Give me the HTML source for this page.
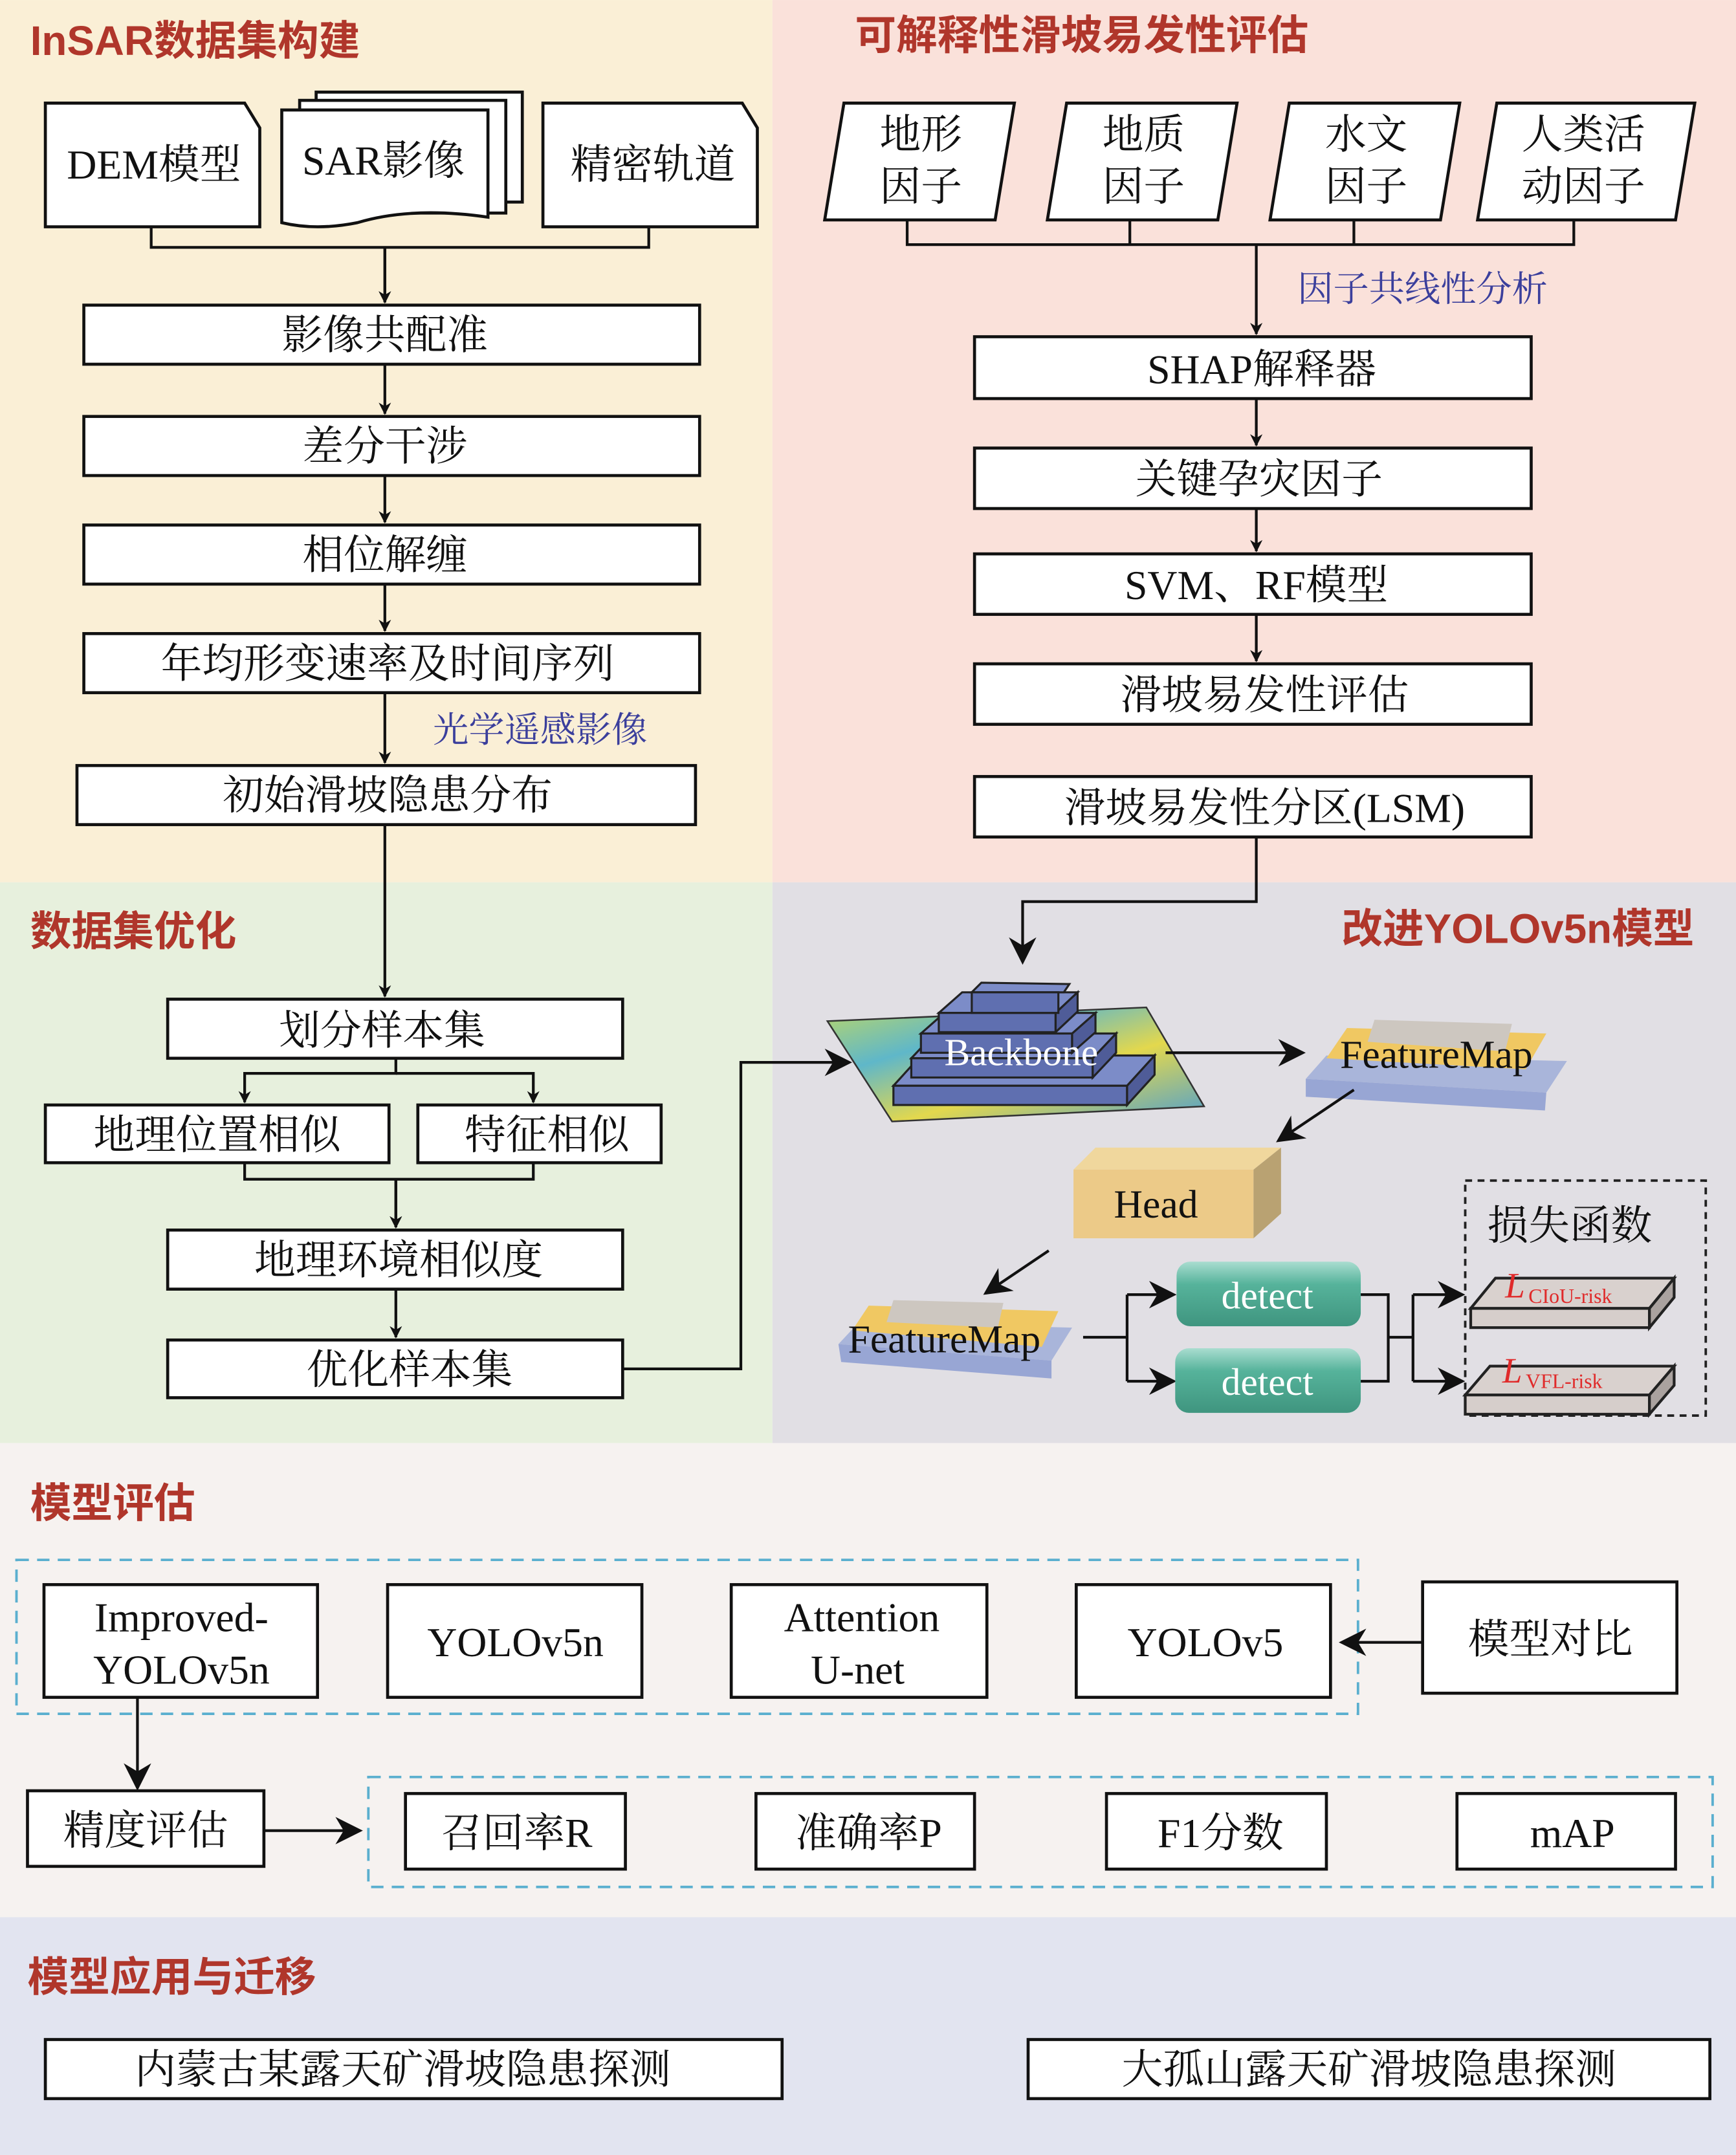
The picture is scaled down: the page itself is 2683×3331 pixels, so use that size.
<!DOCTYPE html>
<html><head><meta charset="utf-8"><style>
html,body{margin:0;padding:0;background:#fff;}
svg{display:block;}
.t{font-family:"Liberation Serif","Noto Serif CJK SC",serif;font-size:30px;fill:#111;text-anchor:middle;}
.h{font-family:"Liberation Sans","Noto Sans CJK SC",sans-serif;font-size:30px;font-weight:bold;fill:#b0362b;}
.b{font-family:"Liberation Serif","Noto Serif CJK SC",serif;font-size:26px;fill:#3b3f9c;}
.bx{fill:#fff;stroke:#111;stroke-width:2.2;}
.ln{fill:none;stroke:#111;stroke-width:2;}
</style></head><body>
<svg width="2683" height="3331" viewBox="0 0 1263 1568" xmlns="http://www.w3.org/2000/svg">
<defs>
<marker id="a" viewBox="0 0 10 10" refX="9" refY="5" markerWidth="9" markerHeight="9" orient="auto" markerUnits="userSpaceOnUse"><path d="M0,0 L10,5 L0,10 L3,5z" fill="#111"/></marker>
<marker id="A" viewBox="0 0 10 10" refX="9" refY="5" markerWidth="20" markerHeight="20" orient="auto" markerUnits="userSpaceOnUse"><path d="M0,0 L10,5 L0,10 L3,5z" fill="#111"/></marker>
<linearGradient id="g" x1="0" y1="0" x2="0" y2="1"><stop offset="0" stop-color="#a9ddd0"/><stop offset="0.35" stop-color="#56b39b"/><stop offset="1" stop-color="#3f957f"/></linearGradient>
<linearGradient id="m" x1="0" y1="0" x2="1" y2="1"><stop offset="0" stop-color="#b9d66a"/><stop offset="0.3" stop-color="#5fb7c9"/><stop offset="0.6" stop-color="#e3d84d"/><stop offset="1" stop-color="#4f9fcf"/></linearGradient>
</defs>
<!-- backgrounds -->
<rect x="0" y="0" width="562" height="642" fill="#faefd6"/>
<rect x="562" y="0" width="701" height="642" fill="#fae1da"/>
<rect x="0" y="642" width="562" height="408" fill="#e7f0dd"/>
<rect x="562" y="642" width="701" height="408" fill="#e1dfe4"/>
<rect x="0" y="1050" width="1263" height="345" fill="#f6f2f0"/>
<rect x="0" y="1395" width="1263" height="173" fill="#e2e4f0"/>

<text class="h" x="22" y="40">InSAR数据集构建</text>
<text class="h" x="622" y="36">可解释性滑坡易发性评估</text>
<text class="h" x="22" y="688">数据集优化</text>
<text class="h" x="976" y="686">改进YOLOv5n模型</text>
<text class="h" x="22" y="1104">模型评估</text>
<text class="h" x="20" y="1449">模型应用与迁移</text>

<!-- top-left docs -->
<path class="bx" d="M33,75 H178 L189,93 V165 H33Z"/>
<text class="t" x="112" y="130">DEM模型</text>
<rect class="bx" x="230" y="67" width="150" height="80"/>
<rect class="bx" x="218" y="73" width="150" height="82"/>
<path class="bx" d="M205,80 H355 V158 Q300,150 260,162 Q230,168 205,162Z"/>
<text class="t" x="279" y="127">SAR影像</text>
<path class="bx" d="M395,75 H540 L551,93 V165 H395Z"/>
<text class="t" x="475" y="130">精密轨道</text>
<path class="ln" d="M110,165 V180 H472 V165 M280,180 V220" marker-end="url(#a)"/>
<path class="ln" d="M280,180 V220" marker-end="url(#a)"/>

<rect class="bx" x="61" y="222" width="448" height="43"/><text class="t" x="280" y="254">影像共配准</text>
<rect class="bx" x="61" y="303" width="448" height="43"/><text class="t" x="280" y="335">差分干涉</text>
<rect class="bx" x="61" y="382" width="448" height="43"/><text class="t" x="280" y="414">相位解缠</text>
<rect class="bx" x="61" y="461" width="448" height="43"/><text class="t" x="282" y="493">年均形变速率及时间序列</text>
<rect class="bx" x="56" y="557" width="450" height="43"/><text class="t" x="282" y="589">初始滑坡隐患分布</text>
<text class="b" x="315" y="540">光学遥感影像</text>
<path class="ln" d="M280,265 V301" marker-end="url(#a)"/>
<path class="ln" d="M280,346 V380" marker-end="url(#a)"/>
<path class="ln" d="M280,425 V459" marker-end="url(#a)"/>
<path class="ln" d="M280,504 V555" marker-end="url(#a)"/>
<path class="ln" d="M280,600 V725" marker-end="url(#a)"/>

<!-- dataset optimization -->
<rect class="bx" x="122" y="727" width="331" height="43"/><text class="t" x="278" y="760">划分样本集</text>
<path class="ln" d="M288,770 V781 H178 V802" marker-end="url(#a)"/>
<path class="ln" d="M288,781 H388 V802" marker-end="url(#a)"/>
<rect class="bx" x="33" y="804" width="250" height="42"/><text class="t" x="158" y="836">地理位置相似</text>
<rect class="bx" x="304" y="804" width="177" height="42"/><text class="t" x="398" y="836">特征相似</text>
<path class="ln" d="M178,846 V858 H388 V846 M288,858 V893" marker-end="url(#a)"/>
<path class="ln" d="M288,858 V893" marker-end="url(#a)"/>
<rect class="bx" x="122" y="895" width="331" height="43"/><text class="t" x="290" y="927">地理环境相似度</text>
<path class="ln" d="M288,938 V973" marker-end="url(#a)"/>
<rect class="bx" x="122" y="975" width="331" height="42"/><text class="t" x="298" y="1007">优化样本集</text>
<path class="ln" d="M453,996 H539 V773 H618" marker-end="url(#A)"/>

<!-- right top factors -->
<g>
<path class="bx" d="M614,75 H738 L724,160 H600Z"/><text class="t" x="670" y="108">地形</text><text class="t" x="670" y="146">因子</text>
<path class="bx" d="M776,75 H900 L886,160 H762Z"/><text class="t" x="832" y="108">地质</text><text class="t" x="832" y="146">因子</text>
<path class="bx" d="M938,75 H1062 L1048,160 H924Z"/><text class="t" x="994" y="108">水文</text><text class="t" x="994" y="146">因子</text>
<path class="bx" d="M1089,75 H1233 L1219,160 H1075Z"/><text class="t" x="1152" y="108">人类活</text><text class="t" x="1152" y="146">动因子</text>
</g>
<path class="ln" d="M660,160 V178 H1145 V160 M822,160 V178 M985,160 V178"/>
<path class="ln" d="M914,178 V243" marker-end="url(#a)"/>
<text class="b" x="944" y="219">因子共线性分析</text>
<rect class="bx" x="709" y="245" width="405" height="45"/><text class="t" x="918" y="279">SHAP解释器</text>
<rect class="bx" x="709" y="326" width="405" height="44"/><text class="t" x="916" y="359">关键孕灾因子</text>
<rect class="bx" x="709" y="403" width="405" height="44"/><text class="t" x="914" y="436">SVM、RF模型</text>
<rect class="bx" x="709" y="483" width="405" height="44"/><text class="t" x="920" y="516">滑坡易发性评估</text>
<rect class="bx" x="709" y="565" width="405" height="44"/><text class="t" x="920" y="598">滑坡易发性分区(LSM)</text>
<path class="ln" d="M914,290 V324" marker-end="url(#a)"/>
<path class="ln" d="M914,370 V401" marker-end="url(#a)"/>
<path class="ln" d="M914,447 V481" marker-end="url(#a)"/>
<path class="ln" d="M914,609 V656 H744 V700" marker-end="url(#A)"/>

<!-- backbone -->
<polygon points="602,743 834,733 876,805 649,816" fill="url(#m)" stroke="#333" stroke-width="1.2"/>
<g stroke="#222" stroke-width="1.5">
<polygon points="650,790 670,768 840,768 820,790" fill="#7c8cc8"/><rect x="650" y="790" width="170" height="14" fill="#5f6fb0"/><polygon points="820,790 840,768 840,782 820,804" fill="#4f5c98"/>
<polygon points="663,770 680,752 812,752 795,770" fill="#7c8cc8"/><rect x="663" y="770" width="132" height="14" fill="#5f6fb0"/><polygon points="795,770 812,752 812,766 795,784" fill="#4f5c98"/>
<polygon points="670,752 687,737 797,737 780,752" fill="#7c8cc8"/><rect x="670" y="752" width="110" height="14" fill="#5f6fb0"/><polygon points="780,752 797,737 797,751 780,766" fill="#4f5c98"/>
<polygon points="683,737 700,722 784,722 768,737" fill="#7c8cc8"/><rect x="683" y="737" width="85" height="14" fill="#5f6fb0"/><polygon points="768,737 784,722 784,736 768,751" fill="#4f5c98"/>
<polygon points="707,722 714,715 778,716 774,722" fill="#7c8cc8"/><rect x="707" y="722" width="63" height="15" fill="#5f6fb0"/>
</g>
<text x="743" y="775" style="font-family:'Liberation Serif',serif;font-size:28px;fill:#fff;text-anchor:middle">Backbone</text>
<path class="ln" d="M848,766 H948" marker-end="url(#A)"/>

<!-- featuremap top -->
<polygon points="950,785 965,768 1140,772 1125,795" fill="#a9b5da"/><polygon points="950,785 1125,795 1124,808 950,798" fill="#98a6d4"/>
<polygon points="965,770 980,748 1125,752 1110,778" fill="#f0c862"/>
<polygon points="995,758 1000,742 1100,745 1095,765" fill="#cdc7c0"/>
<text x="1045" y="777" style="font-family:'Liberation Serif',serif;font-size:29px;fill:#111;text-anchor:middle">FeatureMap</text>
<path class="ln" d="M985,793 L930,830" marker-end="url(#A)"/>

<!-- head -->
<polygon points="781,851 797,835 932,835 912,851" fill="#f0d79d"/>
<rect x="781" y="851" width="131" height="50" fill="#ecca88"/>
<polygon points="912,851 932,835 932,883 912,901" fill="#b9a272"/>
<text x="841" y="886" style="font-family:'Liberation Serif',serif;font-size:29px;fill:#111;text-anchor:middle">Head</text>
<path class="ln" d="M763,910 L717,941" marker-end="url(#A)"/>

<!-- featuremap bottom -->
<polygon points="610,978 625,962 780,966 765,990" fill="#a9b5da"/><polygon points="610,978 765,990 765,1003 612,991" fill="#98a6d4"/>
<polygon points="620,968 632,950 770,954 758,980" fill="#f0c862"/>
<polygon points="645,962 650,946 730,948 726,966" fill="#cdc7c0"/>
<text x="687" y="984" style="font-family:'Liberation Serif',serif;font-size:29px;fill:#111;text-anchor:middle">FeatureMap</text>

<path class="ln" d="M788,973 H820 M820,942 V1005"/>
<path class="ln" d="M820,942 H854" marker-end="url(#A)"/>
<path class="ln" d="M820,1005 H854" marker-end="url(#A)"/>
<rect x="856" y="918" width="134" height="47" rx="10" fill="url(#g)"/>
<rect x="855" y="981" width="135" height="47" rx="10" fill="url(#g)"/>
<text x="922" y="952" style="font-family:'Liberation Serif',serif;font-size:28px;fill:#fff;text-anchor:middle">detect</text>
<text x="922" y="1015" style="font-family:'Liberation Serif',serif;font-size:28px;fill:#fff;text-anchor:middle">detect</text>
<path class="ln" d="M990,942 H1010 V1005 H990 M1010,973 H1028 M1028,942 V1005"/>
<path class="ln" d="M1028,942 H1064" marker-end="url(#A)"/>
<path class="ln" d="M1028,1005 H1064" marker-end="url(#A)"/>
<rect x="1066" y="859" width="175" height="171" fill="none" stroke="#222" stroke-width="1.8" stroke-dasharray="5,4"/>
<text class="t" x="1142" y="902">损失函数</text>
<g stroke="#222" stroke-width="2">
<polygon points="1070,952 1088,930 1218,930 1200,952" fill="#d9d1ce"/><rect x="1070" y="952" width="130" height="14" fill="#d6cecb"/><polygon points="1200,952 1218,930 1218,944 1200,966" fill="#aaa29f"/>
<polygon points="1066,1015 1084,994 1218,994 1200,1015" fill="#d9d1ce"/><rect x="1066" y="1015" width="134" height="14" fill="#d6cecb"/><polygon points="1200,1015 1218,994 1218,1008 1200,1029" fill="#aaa29f"/>
</g>
<text x="1095" y="944" style="font-family:'Liberation Serif',serif;font-size:26px;font-style:italic;fill:#e02a2a">L</text><text x="1112" y="948" style="font-family:'Liberation Serif',serif;font-size:15px;fill:#e02a2a">CIoU-risk</text>
<text x="1093" y="1006" style="font-family:'Liberation Serif',serif;font-size:26px;font-style:italic;fill:#e02a2a">L</text><text x="1110" y="1010" style="font-family:'Liberation Serif',serif;font-size:15px;fill:#e02a2a">VFL-risk</text>

<!-- evaluation -->
<rect x="12" y="1135" width="976" height="112" fill="none" stroke="#5aafcf" stroke-width="1.8" stroke-dasharray="9,6"/>
<rect class="bx" x="32" y="1153" width="199" height="82"/><text class="t" x="132" y="1187">Improved-</text><text class="t" x="132" y="1225">YOLOv5n</text>
<rect class="bx" x="282" y="1153" width="185" height="82"/><text class="t" x="375" y="1205">YOLOv5n</text>
<rect class="bx" x="532" y="1153" width="186" height="82"/><text class="t" x="627" y="1187">Attention</text><text class="t" x="624" y="1225">U-net</text>
<rect class="bx" x="783" y="1153" width="185" height="82"/><text class="t" x="877" y="1205">YOLOv5</text>
<rect class="bx" x="1035" y="1151" width="185" height="81"/><text class="t" x="1128" y="1203">模型对比</text>
<path class="ln" d="M1035,1195 H976" marker-end="url(#A)"/>
<path class="ln" d="M100,1235 V1301" marker-end="url(#A)"/>
<rect class="bx" x="20" y="1303" width="172" height="55"/><text class="t" x="106" y="1342">精度评估</text>
<path class="ln" d="M192,1332 H262" marker-end="url(#A)"/>
<rect x="268" y="1293" width="978" height="80" fill="none" stroke="#5aafcf" stroke-width="1.8" stroke-dasharray="9,6"/>
<rect class="bx" x="295" y="1305" width="160" height="55"/><text class="t" x="376" y="1344">召回率R</text>
<rect class="bx" x="550" y="1305" width="159" height="55"/><text class="t" x="632" y="1344">准确率P</text>
<rect class="bx" x="805" y="1305" width="160" height="55"/><text class="t" x="888" y="1344">F1分数</text>
<rect class="bx" x="1060" y="1305" width="159" height="55"/><text class="t" x="1144" y="1344">mAP</text>

<!-- application -->
<rect class="bx" x="33" y="1484" width="536" height="43"/><text class="t" x="293" y="1516">内蒙古某露天矿滑坡隐患探测</text>
<rect class="bx" x="748" y="1484" width="496" height="43"/><text class="t" x="996" y="1516">大孤山露天矿滑坡隐患探测</text>
</svg>
</body></html>
